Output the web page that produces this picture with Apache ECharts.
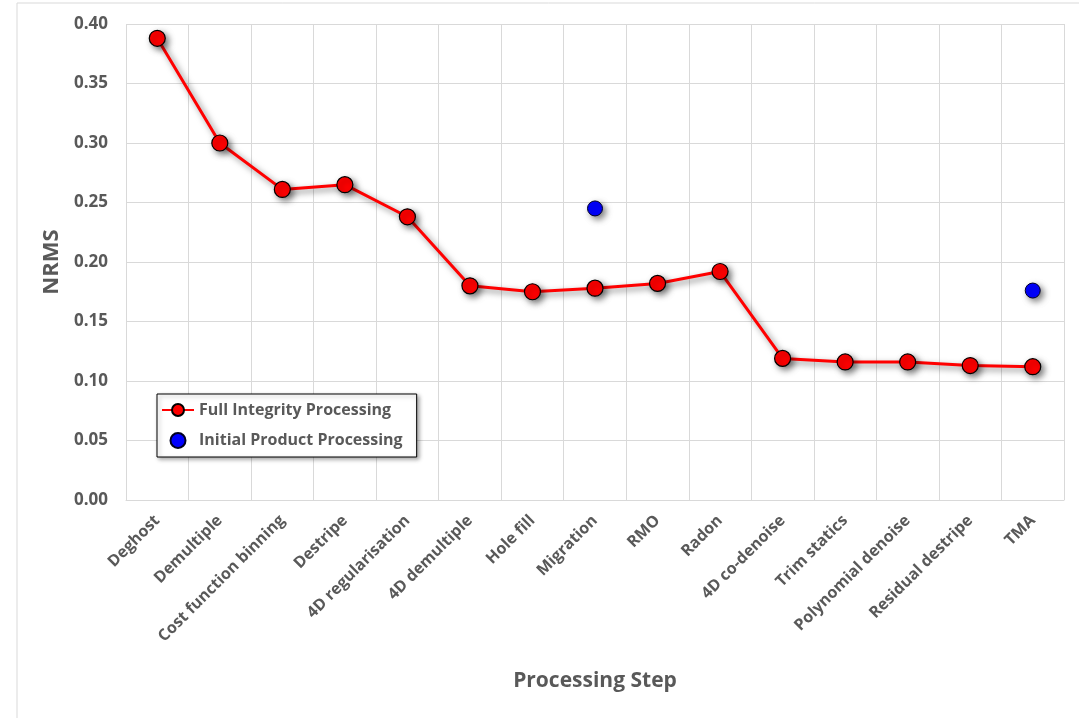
<!DOCTYPE html>
<html><head><meta charset="utf-8">
<script src="https://cdn.jsdelivr.net/npm/echarts@6/dist/echarts.min.js"></script>
<style>html,body{margin:0;padding:0;background:#fff}#c{width:1079px;height:718px}</style>
</head><body><div id="c"></div>
<script>
var categories = ["Deghost","Demultiple","Cost function binning","Destripe","4D regularisation","4D demultiple","Hole fill","Migration","RMO","Radon","4D co-denoise","Trim statics","Polynomial denoise","Residual destripe","TMA"];
var fullIntegrity = [0.388,0.300,0.261,0.265,0.238,0.180,0.175,0.178,0.182,0.192,0.119,0.116,0.116,0.113,0.112];
var initialProduct = [null,null,null,null,null,null,null,0.245,null,null,null,null,null,null,0.176];
var yTicks = [0,0.05,0.10,0.15,0.20,0.25,0.30,0.35,0.40];

var font = '"Open Sans", "Liberation Sans", sans-serif';
var chart = echarts.init(document.getElementById('c'));
chart.setOption({
  animation:false,
  backgroundColor:'#fff',
  graphic:[{type:'rect',shape:{x:17,y:3,width:1100,height:760},style:{fill:'none',stroke:'#d9d9d9',lineWidth:1},silent:true}],
  grid:{left:126,right:15,top:24,bottom:218},
  legend:{
    orient:'vertical',left:157,top:394,
    backgroundColor:'#fff',borderColor:'#000',borderWidth:1,borderRadius:0,
    padding:[8,14,8,4],itemGap:14,itemWidth:32,itemHeight:15,
    shadowColor:'rgba(0,0,0,0.35)',shadowBlur:4,shadowOffsetX:2,shadowOffsetY:2,
    textStyle:{fontFamily:font,fontSize:16,fontWeight:'bold',color:'#595959'},
    data:['Full Integrity Processing','Initial Product Processing']
  },
  xAxis:{
    type:'category',data:categories,boundaryGap:true,
    name:'Processing Step',nameLocation:'middle',nameGap:171,
    nameTextStyle:{fontFamily:font,fontSize:21,fontWeight:'bold',color:'#595959'},
    axisLine:{show:true,lineStyle:{color:'#d9d9d9',width:1}},
    axisTick:{show:false},
    splitLine:{show:true,interval:0,lineStyle:{color:'#d9d9d9',width:1}},
    axisLabel:{interval:0,rotate:45,margin:18,fontFamily:font,fontSize:16,fontWeight:'bold',color:'#595959'}
  },
  yAxis:{
    type:'value',min:0,max:0.40,interval:0.05,
    name:'NRMS',nameLocation:'middle',nameGap:61,
    nameTextStyle:{fontFamily:font,fontSize:22,fontWeight:'bold',color:'#595959'},
    axisLine:{show:false},axisTick:{show:false},
    splitLine:{show:true,lineStyle:{color:'#d9d9d9',width:1}},
    axisLabel:{margin:18,fontFamily:font,fontSize:17,fontWeight:'bold',color:'#595959',
      formatter:function(v){return v.toFixed(2);}}
  },
  series:[
    {name:'Full Integrity Processing',type:'line',data:fullIntegrity,
     symbol:'circle',symbolSize:16,z:3,
     lineStyle:{color:'#ff0000',width:3,shadowColor:'rgba(0,0,0,0.5)',shadowBlur:6,shadowOffsetX:3,shadowOffsetY:3},
     itemStyle:{color:'#ff0000',opacity:1,borderColor:'#000',borderWidth:1.2,shadowColor:'rgba(0,0,0,0.5)',shadowBlur:6,shadowOffsetX:3,shadowOffsetY:3}},
    {name:'Initial Product Processing',type:'scatter',data:initialProduct,
     symbol:'circle',symbolSize:15,z:4,
     itemStyle:{color:'#0000ff',opacity:1,borderColor:'#000022',borderWidth:1,shadowColor:'rgba(0,0,0,0.5)',shadowBlur:6,shadowOffsetX:3,shadowOffsetY:3}}
  ]
});
</script></body></html>
